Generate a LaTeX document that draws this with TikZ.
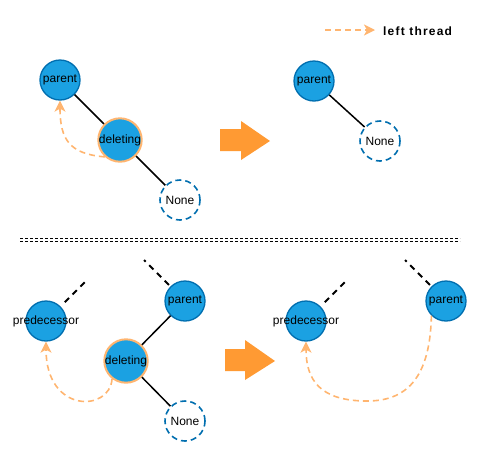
\documentclass[tikz,border=0pt]{standalone}
\usepackage{fontspec}
\setmainfont{Liberation Sans}
\usetikzlibrary{arrows.meta}
\definecolor{nodefill}{HTML}{1BA1E2}
\definecolor{nodeline}{HTML}{006EAF}
\definecolor{thread}{HTML}{FFB570}
\definecolor{bigarrow}{HTML}{FF9A33}
\tikzset{
  tnode/.style={circle, minimum size=40pt, inner sep=0pt, fill=nodefill, draw=nodeline, line width=1.3pt, font=\fontsize{12}{14}\selectfont},
  delnode/.style={tnode, draw=thread, line width=2pt},
  nonenode/.style={circle, minimum size=40pt, inner sep=0pt, fill=white, draw=nodeline, line width=1.6pt, dash pattern=on 6pt off 4pt, font=\fontsize{12}{14}\selectfont},
  edge/.style={line width=1.5pt, black},
  stub/.style={line width=1.8pt, black, dash pattern=on 6pt off 5pt},
  threadline/.style={line width=1.6pt, thread, dash pattern=on 6pt off 4pt, -{Stealth[length=11pt, width=11pt, inset=3pt]}},
  bigarr/.style={fill=bigarrow},
}
\begin{document}
\begin{tikzpicture}[x=1pt, y=-1pt]
\useasboundingbox (0,0) rectangle (481,461);
% legend
\coordinate (legA) at (325,30);
\coordinate (legB) at (375,30);
\draw[threadline] (legA) -- (legB);
\node[anchor=west, inner sep=0pt, font=\fontsize{12}{14}\selectfont\bfseries\addfontfeature{LetterSpace=10}] (legtext) at (383,31) {left thread};

% top-left
\node[tnode] (p1) at (60,80) {parent};
\node[delnode] (d1) at (120,140) {deleting};
\node[nonenode] (n1) at (180,200) {None};
\draw[edge] (p1) -- (d1);
\draw[edge] (d1) -- (n1);
\draw[threadline] (d1.228) .. controls (70,154) and (60,140) .. (p1.south);

% top arrow
\fill[bigarr] (220,129) -- (241,129) -- (241,121) -- (270,141) -- (241,160) -- (241,151) -- (220,151) -- cycle;

% top-right
\node[tnode] (p2) at (314,81) {parent};
\node[nonenode] (n2) at (380,141) {None};
\draw[edge] (p2) -- (n2);

% separator
\draw[line width=0.9pt, dash pattern=on 3pt off 2pt] (20,238.5) -- (460,238.5);
\draw[line width=0.9pt, dash pattern=on 3pt off 2pt] (20,241.7) -- (460,241.7);

% bottom-left
\node[tnode] (pr3) at (46,321) {\makebox[0pt]{predecessor}};
\node[tnode] (p3) at (185,301) {parent};
\node[delnode] (d3) at (126,361) {deleting};
\node[nonenode] (n3) at (185,421) {None};
\coordinate (s3a) at (87,280);
\coordinate (s3b) at (144,260);
\draw[stub, shorten <=6pt] (pr3) -- (s3a);
\draw[stub, shorten <=2pt] (p3) -- (s3b);
\draw[edge] (p3) -- (d3);
\draw[edge] (d3) -- (n3);
\draw[threadline] (d3.232) .. controls (110,412) and (46,414) .. (pr3.south);

% bottom arrow
\fill[bigarr] (225,349) -- (245,349) -- (245,340) -- (275,361) -- (245,380) -- (245,371) -- (225,371) -- cycle;

% bottom-right
\node[tnode] (pr4) at (306,321) {\makebox[0pt]{predecessor}};
\node[tnode] (p4) at (446,301) {parent};
\coordinate (s4a) at (347,280);
\coordinate (s4b) at (405,260);
\draw[stub, shorten <=6pt] (pr4) -- (s4a);
\draw[stub, shorten <=2pt] (p4) -- (s4b);
\draw[threadline] (p4.225) .. controls (430,380) and (405,401) .. (367,401) .. controls (320,401) and (306,380) .. (pr4.south);
\end{tikzpicture}
\end{document}
